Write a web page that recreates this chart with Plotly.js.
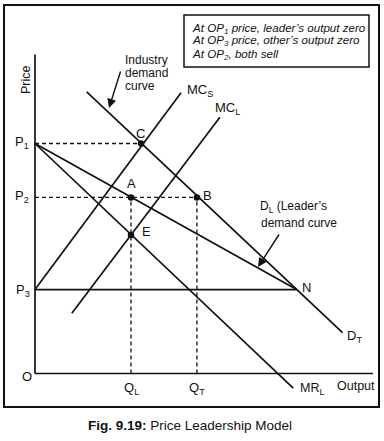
<!DOCTYPE html>
<html>
<head>
<meta charset="utf-8">
<script src="https://cdn.plot.ly/plotly-3.0.1.min.js"></script>
<style>
html,body{margin:0;padding:0;background:#fff;}
#chart{width:384px;height:441px;}
</style>
</head>
<body>
<div id="chart"></div>
<script>
// ---- Data (economic units) ----
const priceLabels = ['P<sub>1</sub>', 'P<sub>2</sub>', 'P<sub>3</sub>'];
const priceValues = [72.1, 55.2, 26.3];
const qtyLabels = ['Q<sub>L</sub>', 'Q<sub>T</sub>'];
const qtyValues = [28.4, 47.9];

const industryDemandX = [15.3, 91.0];
const industryDemandY = [88.3, 12.8];
const leaderDemandX = [0, 77.4];
const leaderDemandY = [72.1, 26.3];
const leaderMRX = [0, 76.4];
const leaderMRY = [72.1, -4.6];
const mcSX = [0, 43.2];
const mcSY = [26.3, 88.0];
const mcLX = [10.9, 54.7];
const mcLY = [18.9, 80.3];

const pointNames = ['C', 'A', 'B', 'E'];
const pointX = [31.4, 28.4, 47.9, 28.4];
const pointY = [72.1, 55.2, 55.2, 43.4];

const outputAxisEnd = 100;
const priceAxisEnd = 100;

const noteLines = [
  'At OP<sub>1</sub> price, leader\u2019s output zero',
  'At OP<sub>3</sub> price, other\u2019s output zero',
  'At OP<sub>2</sub>, both sell'
];

// ---- Layout helpers ----
const W = 384, H = 441;
const FONT = 'Liberation Sans, Arial, sans-serif';
const px = v => v / W;
const py = v => 1 - v / H;
const blk = '#111';

function line(x, y, opts) {
  return Object.assign({
    type: 'scatter', mode: 'lines', x: x, y: y, hoverinfo: 'skip',
    line: {color: blk, width: 1.7}, showlegend: false
  }, opts || {});
}
const dashed = {line: {color: blk, width: 1.3, dash: '4px,3px'}};

const traces = [];
// axes
traces.push(line([0, outputAxisEnd], [0, 0]));
traces.push(line([0, 0], [0, priceAxisEnd]));
// dashed guides
traces.push(line([0, pointX[0]], [priceValues[0], priceValues[0]], dashed));
traces.push(line([0, pointX[2]], [priceValues[1], priceValues[1]], dashed));
traces.push(line([qtyValues[0], qtyValues[0]], [0, priceValues[1]], dashed));
traces.push(line([qtyValues[1], qtyValues[1]], [0, priceValues[1]], dashed));
// P3 horizontal solid
traces.push(line([0, leaderDemandX[1]], [priceValues[2], priceValues[2]]));
// curves
traces.push(line(industryDemandX, industryDemandY));
traces.push(line(leaderDemandX, leaderDemandY));
traces.push(line(leaderMRX, leaderMRY));
traces.push(line(mcSX, mcSY));
traces.push(line(mcLX, mcLY));
// points
traces.push({type: 'scatter', mode: 'markers', x: pointX, y: pointY, hoverinfo: 'skip',
  marker: {color: blk, size: 6.5}, showlegend: false});

const ann = [];
function lab(text, x, y, opt) {
  ann.push(Object.assign({
    text: text, xref: 'paper', yref: 'paper', x: px(x), y: py(y),
    xanchor: 'center', yanchor: 'middle', showarrow: false,
    font: {family: FONT, size: 12.5, color: blk}
  }, opt || {}));
}
const f13 = {family: FONT, size: 13, color: blk};
const f12 = {family: FONT, size: 12, color: blk};

// price labels
lab(priceLabels[0], 22, 142, {font: f13});
lab(priceLabels[1], 22, 196, {font: f13});
lab(priceLabels[2], 23, 290, {font: f13});
lab('O', 27, 376, {font: f13});
lab(qtyLabels[0], 131, 388, {font: f13});
lab(qtyLabels[1], 197, 388, {font: f13});
lab('MR<sub>L</sub>', 298, 389, {xanchor: 'left'});
lab('Output', 335, 386, {xanchor: 'left'});
lab('Price', 26, 80, {textangle: -90});
lab('Industry', 123, 60, {xanchor: 'left', font: f12});
lab('demand', 123, 73, {xanchor: 'left', font: f12});
lab('curve', 123, 86, {xanchor: 'left', font: f12});
lab('MC<sub>S</sub>', 185, 91, {xanchor: 'left', font: f13});
lab('MC<sub>L</sub>', 213, 109, {xanchor: 'left', font: f13});
lab(pointNames[0], 140, 134, {font: f13});
lab(pointNames[1], 131, 184, {font: f13});
lab(pointNames[2], 207, 195, {font: f13});
lab(pointNames[3], 146, 232, {font: f13});
lab('N', 306, 287, {font: f13});
lab('D<sub>L</sub> (Leader\u2019s', 258, 207, {xanchor: 'left', font: f12});
lab('demand curve', 259, 223, {xanchor: 'left', font: f12});
lab('D<sub>T</sub>', 345, 336, {xanchor: 'left', font: f13});
noteLines.forEach((t, i) => lab('<i>' + t + '</i>', 190, 28 + i * 13, {xanchor: 'left', font: {family: FONT, size: 11.6, color: blk}}));
lab('<b>Fig. 9.19:</b> Price Leadership Model', 190, 425, {font: {family: FONT, size: 13.5, color: blk}});

// arrows
function arrow(tipX, tipY, tailX, tailY) {
  ann.push({text: '', xref: 'paper', yref: 'paper', x: px(tipX), y: py(tipY),
    axref: 'pixel', ayref: 'pixel', ax: tailX - tipX, ay: tailY - tipY,
    showarrow: true, arrowhead: 2, arrowsize: 1.3, arrowwidth: 1.4, arrowcolor: blk, standoff: 0});
}
arrow(109, 108, 121, 70);
arrow(258, 267, 280, 233);

const shapes = [
  {type: 'rect', xref: 'paper', yref: 'paper', x0: px(4), x1: px(379), y0: py(407), y1: py(5),
   line: {color: blk, width: 2}},
  {type: 'rect', xref: 'paper', yref: 'paper', x0: px(184), x1: px(369), y0: py(67), y1: py(15),
   line: {color: blk, width: 1.5}}
];

const layout = {
  width: W, height: H,
  margin: {l: 0, r: 0, t: 0, b: 0, pad: 0},
  paper_bgcolor: '#fff', plot_bgcolor: '#fff',
  xaxis: {range: [-35 / 3.38, 349 / 3.38], visible: false, fixedrange: true},
  yaxis: {range: [(373.5 - 441) / 3.19, 373.5 / 3.19], visible: false, fixedrange: true},
  showlegend: false,
  annotations: ann,
  shapes: shapes
};

Plotly.newPlot('chart', traces, layout, {displayModeBar: false, staticPlot: true});
</script>
</body>
</html>
